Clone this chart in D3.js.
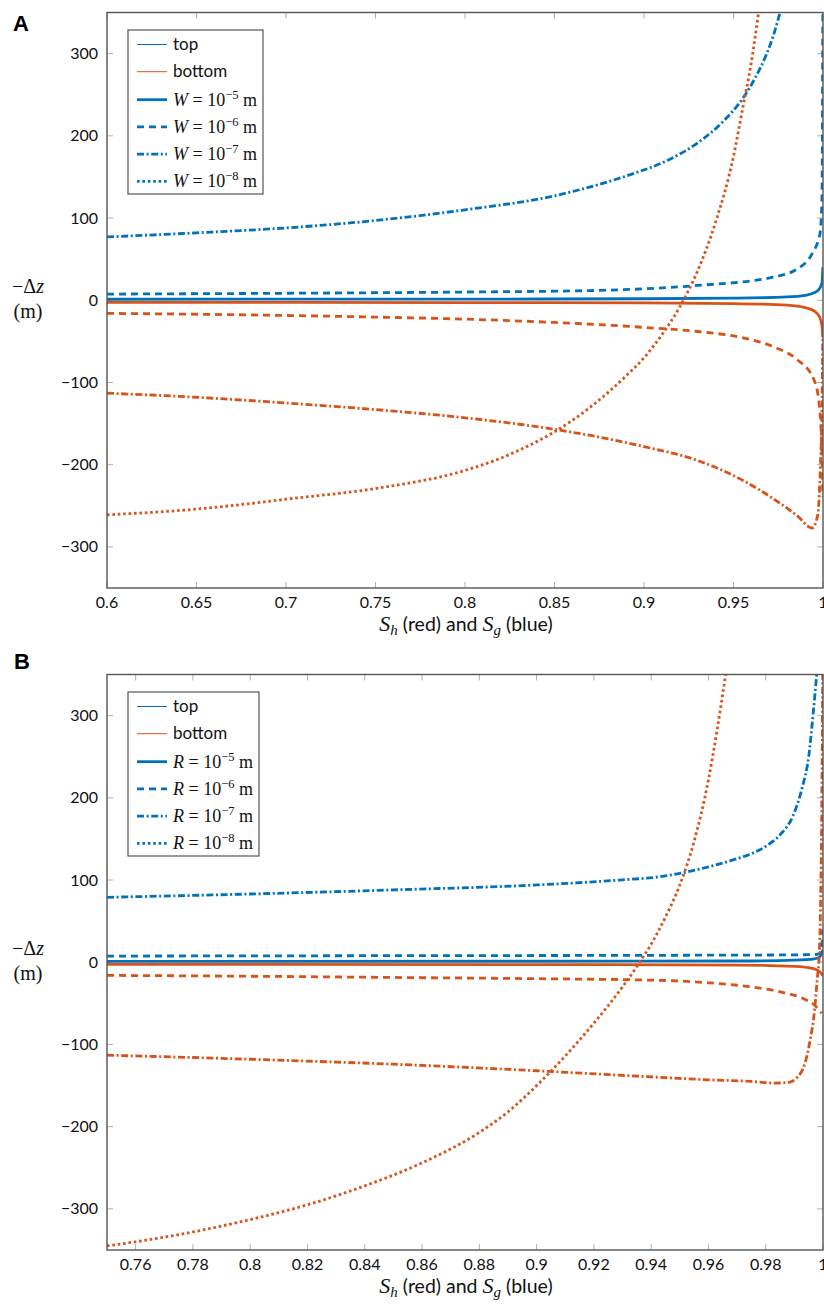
<!DOCTYPE html>
<html>
<head>
<meta charset="utf-8">
<script src="https://cdn.jsdelivr.net/npm/d3@7"></script>
<style>
  body { margin: 0; background: #fff; }
  svg { display: block; }
</style>
</head>
<body>
<svg id="chart" width="824" height="1305"></svg>
<script>
// valeurs : [S, -dz (m)]
const aXTicks = [0.6, 0.65, 0.7, 0.75, 0.8, 0.85, 0.9, 0.95, 1];
const bXTicks = [0.76, 0.78, 0.8, 0.82, 0.84, 0.86, 0.88, 0.9, 0.92, 0.94, 0.96, 0.98, 1];
const yTicks = [-300, -200, -100, 0, 100, 200, 300];

// panneau A : W
const aTopW5 = [[0.6, 1.2], [0.8, 1.4], [0.9, 1.8], [0.95, 2.5], [0.98, 4], [0.99, 6], [0.995, 9], [0.998, 14], [0.9995, 22], [0.9999, 40]];
const aTopW6 = [[0.6, 7.5], [0.7, 8.5], [0.8, 10], [0.875, 12], [0.93, 18], [0.972, 28], [0.987, 40], [0.994, 57], [0.9983, 81], [0.9994, 121], [0.9999, 350]];
const aTopW7 = [[0.6, 77], [0.65, 82], [0.7, 88], [0.75, 97], [0.8, 110], [0.85, 127], [0.875, 141], [0.894, 154], [0.913, 170], [0.931, 193], [0.944, 217], [0.955, 245], [0.962, 270], [0.968, 297], [0.972, 320], [0.976, 350]];
const aBotW5 = [[0.6, -2.5], [0.8, -2.8], [0.9, -3.2], [0.95, -4], [0.98, -6], [0.99, -9], [0.995, -13], [0.998, -20], [0.9995, -32], [0.9999, -45]];
const aBotW6 = [[0.6, -16], [0.65, -17], [0.7, -18.5], [0.75, -20.5], [0.8, -23], [0.85, -27], [0.9, -33], [0.93, -38], [0.956, -46], [0.974, -58], [0.9855, -72], [0.995, -97], [0.9978, -125], [0.9993, -180], [0.9999, -240]];
const aBotW7 = [[0.6, -113], [0.65, -118], [0.7, -125], [0.75, -133], [0.8, -143], [0.85, -157], [0.9, -178], [0.93, -195], [0.956, -220], [0.974, -244], [0.9855, -262], [0.9939, -277], [0.997, -262], [0.9985, -205], [0.9995, -120], [0.9999, -40]];
const aBotW8 = [[0.6, -261], [0.65, -254], [0.685, -246], [0.7, -242], [0.75, -229], [0.8, -207], [0.82, -192], [0.84, -172], [0.85, -160], [0.87, -130], [0.88, -112], [0.89, -92], [0.9, -70], [0.91, -42], [0.92, -8], [0.93, 36], [0.94, 95], [0.95, 175], [0.955, 232], [0.96, 290], [0.964, 350]];

// panneau B : R
const bTopR5 = [[0.75, 1], [0.9, 1.2], [0.97, 1.5], [0.99, 2.5], [0.997, 4], [0.999, 7], [0.9999, 15]];
const bTopR6 = [[0.75, 7.5], [0.85, 8], [0.95, 8.5], [0.99, 9], [0.998, 9.5], [0.9995, 15], [0.9999, 40]];
const bTopR7 = [[0.75, 79], [0.8, 83], [0.85, 88], [0.9, 94], [0.929, 100], [0.943, 104], [0.95, 108], [0.96, 116], [0.97, 126], [0.975, 132], [0.98, 141], [0.985, 155], [0.9895, 178], [0.9927, 212], [0.995, 250], [0.9965, 300], [0.9978, 350]];
const bBotR5 = [[0.75, -2.5], [0.9, -2.8], [0.97, -3.5], [0.99, -5], [0.997, -8], [0.999, -12], [0.9999, -16]];
const bBotR6 = [[0.75, -16], [0.8, -17], [0.85, -18.5], [0.9, -20], [0.943, -22], [0.96, -25], [0.975, -30], [0.985, -36], [0.993, -44], [0.997, -52], [0.9995, -62]];
const bBotR7 = [[0.75, -113], [0.8, -118], [0.85, -124], [0.9, -132], [0.943, -140], [0.96, -143], [0.975, -145], [0.983, -147], [0.988, -146], [0.991, -140], [0.9935, -125], [0.9955, -95], [0.997, -60], [0.998, -20], [0.9987, 10], [0.9992, 80], [0.9996, 200], [0.9999, 350]];
const bBotR8 = [[0.75, -345], [0.76, -340], [0.78, -328], [0.8, -313], [0.82, -295], [0.84, -272], [0.86, -244], [0.88, -207], [0.89, -182], [0.9, -150], [0.91, -114], [0.92, -74], [0.93, -30], [0.936, 0], [0.94, 22], [0.945, 55], [0.95, 94], [0.955, 147], [0.96, 222], [0.963, 282], [0.966, 350]];

const BLUE = "#0072bd";
const RED = "#d95319";
const DASH = {
  solid: null,
  dashed: "7,5",
  dashdot: "7,2.6,2,2.6",
  dotted: "2.6,2.8",
};
const SANS = "Lato, 'Open Sans', sans-serif";
const SERIF = "'Liberation Serif', 'DejaVu Serif', serif";

const svg = d3.select("#chart");

function drawPanel(cfg) {
  const x = d3.scaleLinear().domain(cfg.xDomain).range([107, 823]);
  const y = d3.scaleLinear().domain([-350, 350]).range([cfg.bottom, cfg.top]);
  const g = svg.append("g");
  const clipId = "clip" + cfg.letter;

  g.append("clipPath").attr("id", clipId)
    .append("rect").attr("x", x.range()[0]).attr("y", cfg.top)
    .attr("width", x.range()[1] - x.range()[0]).attr("height", cfg.bottom - cfg.top);

  // graduations (vers l'interieur, sur les quatre cotes)
  const tk = g.append("g").attr("stroke", "#b0b0b0").attr("stroke-width", 1);
  for (const t of cfg.xTicks) {
    tk.append("line").attr("x1", x(t)).attr("x2", x(t)).attr("y1", cfg.bottom).attr("y2", cfg.bottom - 6);
    tk.append("line").attr("x1", x(t)).attr("x2", x(t)).attr("y1", cfg.top).attr("y2", cfg.top + 6);
  }
  for (const t of yTicks) {
    tk.append("line").attr("x1", x.range()[0]).attr("x2", x.range()[0] + 6).attr("y1", y(t)).attr("y2", y(t));
    tk.append("line").attr("x1", x.range()[1]).attr("x2", x.range()[1] - 6).attr("y1", y(t)).attr("y2", y(t));
  }

  g.append("g").selectAll("text").data(cfg.xTicks).join("text")
    .attr("x", (d) => x(d)).attr("y", cfg.bottom + 20)
    .attr("text-anchor", "middle").attr("font-family", SANS).attr("font-size", 16).attr("fill", "#111")
    .text((d) => String(d));
  g.append("g").selectAll("text").data(yTicks).join("text")
    .attr("x", 98).attr("y", (d) => y(d) + 5.5)
    .attr("text-anchor", "end").attr("font-family", SANS).attr("font-size", 16).attr("fill", "#111")
    .text((d) => d3.format("d")(d));

  // courbes
  const line = d3.line().x((d) => x(d[0])).y((d) => y(d[1])).curve(d3.curveMonotoneX);
  const curves = g.append("g").attr("clip-path", `url(#${clipId})`);
  for (const s of cfg.series) {
    curves.append("path").datum(s.data)
      .attr("fill", "none").attr("stroke", s.color).attr("stroke-width", 2.8)
      .attr("stroke-dasharray", DASH[s.style])
      .attr("d", line);
  }

  // cadre
  g.append("rect").attr("x", x.range()[0]).attr("y", cfg.top)
    .attr("width", x.range()[1] - x.range()[0]).attr("height", cfg.bottom - cfg.top)
    .attr("fill", "none").attr("stroke", "#555").attr("stroke-width", 1.4);

  // legende
  const lg = g.append("g");
  const box = lg.append("rect").attr("fill", "#fff").attr("stroke", "#555").attr("stroke-width", 1.2);
  const rowY = (i) => cfg.top + 32 + i * 27.2 + (i > 1 ? 0.8 : 0);
  const rows = [
    { color: BLUE, w: 1, style: "solid", text: "top" },
    { color: RED, w: 1, style: "solid", text: "bottom" },
    { color: BLUE, w: 2.8, style: "solid", exp: "5" },
    { color: BLUE, w: 2.8, style: "dashed", exp: "6" },
    { color: BLUE, w: 2.8, style: "dashdot", exp: "7" },
    { color: BLUE, w: 2.8, style: "dotted", exp: "8" },
  ];
  rows.forEach((r, i) => {
    const cy = rowY(i);
    lg.append("line").attr("x1", 137).attr("x2", 167).attr("y1", cy).attr("y2", cy)
      .attr("stroke", r.color).attr("stroke-width", r.w).attr("stroke-dasharray", DASH[r.style]);
    if (r.text) {
      lg.append("text").attr("x", 173).attr("y", cy + 5.5)
        .attr("font-family", SANS).attr("font-size", 17).attr("fill", "#111").text(r.text);
    } else {
      const t = lg.append("text").attr("x", 173).attr("y", cy + 6)
        .attr("font-family", SERIF).attr("font-size", 18).attr("fill", "#111");
      t.append("tspan").attr("font-style", "italic").text(cfg.sym);
      t.append("tspan").text(" = 10");
      t.append("tspan").attr("dy", -7).attr("font-size", 12.5).text("\u2212" + r.exp);
      t.append("tspan").attr("dy", 7).text(" m");
    }
  });
  const bb = lg.node().getBBox();
  box.attr("x", 128).attr("y", cfg.top + 17.5).attr("width", bb.x + bb.width + 6 - 128).attr("height", 164);

  // titres d'axes
  const yl = g.append("text").attr("x", 28).attr("y", y(0) - 7).attr("text-anchor", "middle")
    .attr("font-family", SERIF).attr("font-size", 20).attr("fill", "#111");
  yl.append("tspan").text("\u2212\u0394");
  yl.append("tspan").attr("font-style", "italic").text("z");
  g.append("text").attr("x", 28).attr("y", y(0) + 18).attr("text-anchor", "middle")
    .attr("font-family", SERIF).attr("font-size", 20).attr("fill", "#111").text("(m)");

  const xl = g.append("text").attr("x", 466).attr("y", cfg.bottom + 43).attr("text-anchor", "middle")
    .attr("font-family", SANS).attr("font-size", 19.5).attr("fill", "#111");
  xl.append("tspan").attr("font-family", SERIF).attr("font-style", "italic").attr("font-size", 22).text("S");
  xl.append("tspan").attr("font-family", SERIF).attr("font-style", "italic").attr("font-size", 15).attr("dy", 4).text("h");
  xl.append("tspan").attr("dy", -4).text(" (red) and ");
  xl.append("tspan").attr("font-family", SERIF).attr("font-style", "italic").attr("font-size", 22).text("S");
  xl.append("tspan").attr("font-family", SERIF).attr("font-style", "italic").attr("font-size", 15).attr("dy", 4).text("g");
  xl.append("tspan").attr("dy", -4).text(" (blue)");

  svg.append("text").attr("x", cfg.letterX).attr("y", cfg.letterY)
    .attr("font-family", "'Liberation Sans', Arial, sans-serif").attr("font-weight", "bold")
    .attr("font-size", 22).attr("fill", "#000").text(cfg.letter);
}

drawPanel({
  letter: "A", letterX: 13, letterY: 30.5,
  top: 12.5, bottom: 588,
  xDomain: [0.6, 1], xTicks: aXTicks, sym: "W",
  series: [
    { data: aTopW5, color: BLUE, style: "solid" },
    { data: aBotW5, color: RED, style: "solid" },
    { data: aTopW6, color: BLUE, style: "dashed" },
    { data: aBotW6, color: RED, style: "dashed" },
    { data: aTopW7, color: BLUE, style: "dashdot" },
    { data: aBotW7, color: RED, style: "dashdot" },
    { data: aBotW8, color: RED, style: "dotted" },
  ],
});

drawPanel({
  letter: "B", letterX: 14, letterY: 669,
  top: 674.5, bottom: 1250,
  xDomain: [0.75, 1], xTicks: bXTicks, sym: "R",
  series: [
    { data: bTopR5, color: BLUE, style: "solid" },
    { data: bBotR5, color: RED, style: "solid" },
    { data: bTopR6, color: BLUE, style: "dashed" },
    { data: bBotR6, color: RED, style: "dashed" },
    { data: bTopR7, color: BLUE, style: "dashdot" },
    { data: bBotR7, color: RED, style: "dashdot" },
    { data: bBotR8, color: RED, style: "dotted" },
  ],
});
</script>
</body>
</html>
